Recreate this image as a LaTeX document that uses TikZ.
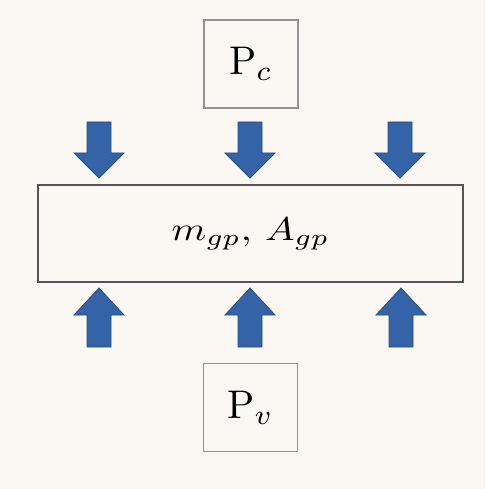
\documentclass[tikz,border=0pt]{standalone}
\usepackage{graphicx}
\usepackage{tikz}
\definecolor{paper}{HTML}{FBF8F3}
\definecolor{arrowfill}{HTML}{3563A8}
\definecolor{arrowedge}{HTML}{2A4C80}
\definecolor{smallframe}{HTML}{929292}
\definecolor{bigframe}{HTML}{555555}
\begin{document}
\begin{tikzpicture}[x=1pt,y=-1pt,
  smallbox/.style={draw=smallframe,line width=1.5pt,fill=paper,minimum width=94pt,minimum height=88pt,inner sep=0pt},
  bigbox/.style={draw=bigframe,line width=2.4pt,fill=paper,minimum width=425pt,minimum height=97pt,inner sep=0pt},
  blockarrow/.style={fill=arrowfill,draw=arrowedge,line width=0.8pt,line join=miter}]
  \fill[paper] (0,0) rectangle (485,489);
  \useasboundingbox (0,0) rectangle (485,489);

  % boxes
  \node[smallbox] (pc) at (251,64) {\scalebox{4.0}{P$_c$}};
  \node[bigbox] (core) at (250.5,233.5) {\scalebox{3.95}[3.3]{$m_{gp}$, $A_{gp}$}};
  \node[smallbox] (pv) at (250.5,407.5) {\scalebox{4.0}{P$_v$}};

  % downward block arrows above the core box
  \foreach \cx/\nm in {99/d1,250/d2,400/d3}{
    \coordinate (\nm) at (\cx,178);
    \draw[blockarrow] (\nm) -- ++(-25,-25) -- ++(13,0) -- ++(0,-31) -- ++(24,0) -- ++(0,31) -- ++(13,0) -- cycle;
  }
  % upward block arrows below the core box
  \foreach \cx/\nm in {99/u1,250/u2,401/u3}{
    \coordinate (\nm) at (\cx,288);
    \draw[blockarrow] (\nm) -- ++(-25,27) -- ++(13,0) -- ++(0,32) -- ++(24,0) -- ++(0,-32) -- ++(13,0) -- cycle;
  }
\end{tikzpicture}
\end{document}
